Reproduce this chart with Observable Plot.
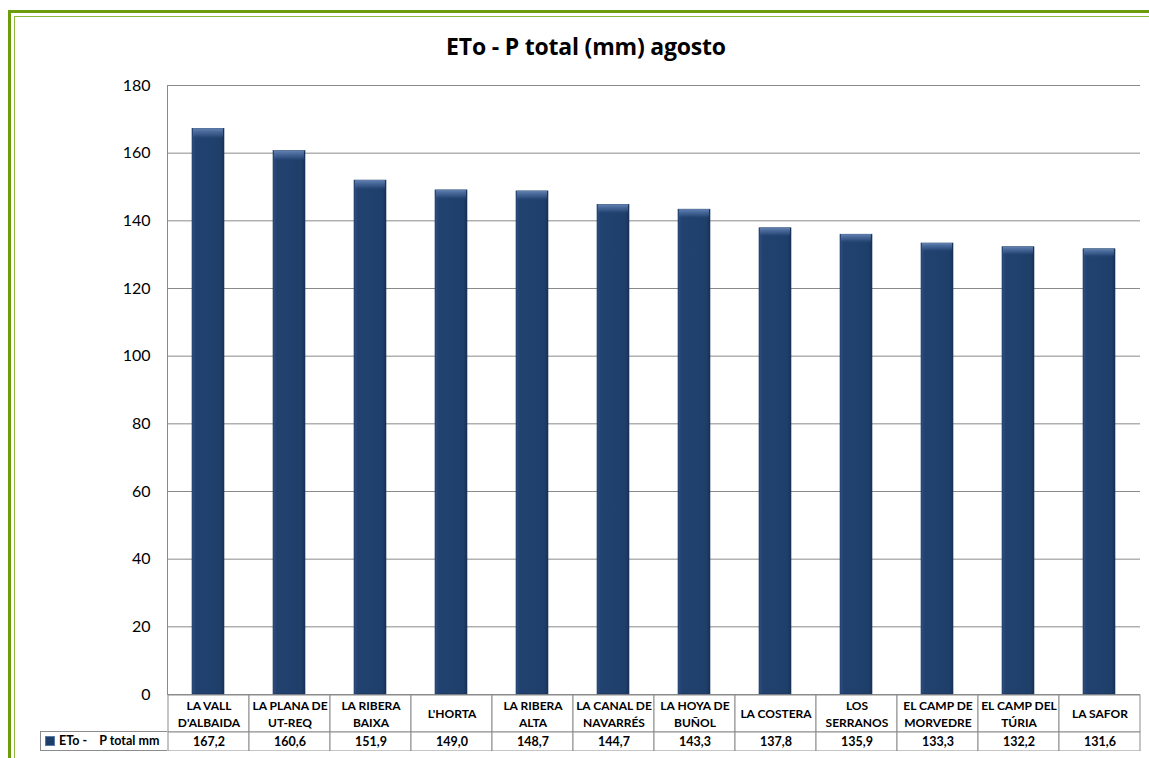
<!DOCTYPE html>
<html><head><meta charset="utf-8">
<script src="https://cdn.jsdelivr.net/npm/d3@7"></script>
<script src="https://cdn.jsdelivr.net/npm/@observablehq/plot@0.6"></script>
<style>
html,body{margin:0;padding:0;background:#fff;}
#wrap{position:relative;width:1149px;height:758px;overflow:hidden;font-family:Lato,"Open Sans",sans-serif;}
#b1{position:absolute;left:8px;top:10px;width:2000px;height:2000px;border-left:3px solid #6c9c0c;border-top:3px solid #6c9c0c;}
#b2{position:absolute;left:14px;top:16px;width:2000px;height:2000px;border-left:1px solid #8cb83c;border-top:1px solid #8cb83c;}
#title{position:absolute;left:0;width:1172px;top:30px;text-align:center;font-family:"Open Sans",Lato,sans-serif;font-weight:bold;font-size:23px;color:#000;letter-spacing:-0.2px;}
.abs{position:absolute;left:0;}
#legend{position:absolute;left:40px;top:731px;width:126px;height:18px;border:1px solid #8c8c8c;border-right:none;font-weight:bold;font-size:12.5px;line-height:18px;white-space:pre;background:#fff;}
#legend span.sw{display:inline-block;width:8px;height:8px;background:#1f3f6b;border:1px solid #5a7aa8;margin:0 4px 0 4px;vertical-align:-1px;}
</style></head>
<body><div id="wrap"><div id="b1"></div><div id="b2"></div><div id="title">ETo - P total (mm) agosto</div>
<div id="chart" class="abs" style="top:0"></div>
<div id="labels" class="abs" style="top:694px"></div>
<div id="values" class="abs" style="top:731px"></div>
<div id="legend"><span class="sw"></span><span id="lgtext"></span></div>
</div>
<script>
const regions = ["LA VALL\nD'ALBAIDA","LA PLANA DE\nUT-REQ","LA RIBERA\nBAIXA","L'HORTA","LA RIBERA\nALTA","LA CANAL DE\nNAVARRÉS","LA HOYA DE\nBUÑOL","LA COSTERA","LOS\nSERRANOS","EL CAMP DE\nMORVEDRE","EL CAMP DEL\nTÚRIA","LA SAFOR"];
const values = [167.2,160.6,151.9,149.0,148.7,144.7,143.3,137.8,135.9,133.3,132.2,131.6];
const yTicks = [0,20,40,60,80,100,120,140,160,180];
const seriesName = "ETo -    P total mm";

const data = regions.map((r,i)=>({region:r, value:values[i]}));
const fmt = v => v.toFixed(1).replace(".", ",");
const font = "Lato, 'Open Sans', sans-serif";

const chart = Plot.plot({
  width:1149, height:712, marginLeft:167, marginRight:9, marginTop:85, marginBottom:18,
  style:{fontFamily:font, fontSize:"16px", color:"#000", background:"transparent"},
  x:{domain:regions, paddingInner:0.6, paddingOuter:0.3, axis:null},
  y:{domain:[0,180], ticks:yTicks, label:null, axis:null},
  marks:[
    Plot.gridY(yTicks, {stroke:"#8a8a8a", strokeOpacity:1, strokeWidth:1}),
    Plot.frame({anchor:"left", stroke:"#8a8a8a"}),
    Plot.barY(data, {x:"region", y:"value", fill:"url(#barGrad)", stroke:"#1a355c", strokeWidth:0.6, style:{filter:"drop-shadow(1px 1px 1.5px rgba(0,0,0,0.45))"}}),
    Plot.barY(data, {x:"region", y:"value", fill:"url(#topGrad)", insetLeft:1, insetRight:1}),
    Plot.axisY(yTicks, {tickSize:0, tickPadding:17, fontSize:16, label:null})
  ]
});
const ns = "http://www.w3.org/2000/svg";
const defs = document.createElementNS(ns,"defs");
defs.innerHTML = `<linearGradient id="barGrad" x1="0" x2="1" y1="0" y2="0">
<stop offset="0" stop-color="#2e5082"/><stop offset="0.12" stop-color="#21416f"/>
<stop offset="0.88" stop-color="#1f3f6b"/><stop offset="1" stop-color="#173258"/></linearGradient>
<linearGradient id="topGrad" x1="0" x2="0" y1="0" y2="1">
<stop offset="0" stop-color="#6f8fc0" stop-opacity="0.85"/><stop offset="0.012" stop-color="#4a6c9e" stop-opacity="0.5"/>
<stop offset="0.02" stop-color="#1f3f6b" stop-opacity="0"/><stop offset="1" stop-color="#1f3f6b" stop-opacity="0"/></linearGradient>`;
chart.prepend(defs);
document.getElementById("chart").append(chart);

const labelPlot = Plot.plot({
  width:1149, height:38, marginLeft:167, marginRight:9, marginTop:0.5, marginBottom:0.5,
  style:{fontFamily:font, background:"transparent"},
  x:{domain:regions, padding:0, axis:null},
  y:{domain:["r"], padding:0, axis:null},
  marks:[
    Plot.cell(data, {x:"region", y:()=>"r", fill:"white", stroke:"#8c8c8c", inset:0}),
    Plot.text(data, {x:"region", y:()=>"r", dy:-1, text:"region", fontWeight:"bold", fontSize:12, lineHeight:1.4, fill:"#000"})
  ]
});
document.getElementById("labels").append(labelPlot);

const valuePlot = Plot.plot({
  width:1149, height:20, marginLeft:167, marginRight:9, marginTop:0.5, marginBottom:0.5,
  style:{fontFamily:font, background:"transparent"},
  x:{domain:regions, padding:0, axis:null},
  y:{domain:["v"], padding:0, axis:null},
  marks:[
    Plot.cell(data, {x:"region", y:()=>"v", fill:"white", stroke:"#8c8c8c", inset:0}),
    Plot.text(data, {x:"region", y:()=>"v", text:d=>fmt(d.value), fontWeight:"bold", fontSize:12.5, fill:"#000"})
  ]
});
document.getElementById("values").append(valuePlot);
document.getElementById("lgtext").textContent = seriesName;
</script>
</body></html>
